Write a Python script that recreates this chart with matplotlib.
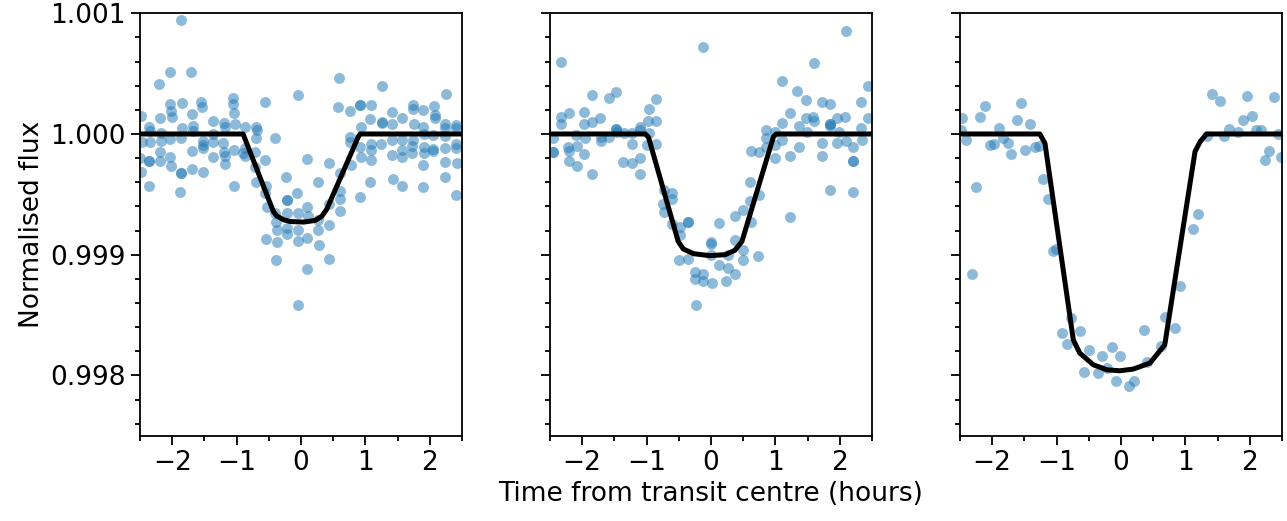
import numpy as np
import matplotlib
matplotlib.use("Agg")
import matplotlib.pyplot as plt
from matplotlib.ticker import MultipleLocator, FormatStrFormatter

# --- panel 1 data (hours, normalised flux) ---
t1 = [-1.86, -2.04, -1.71, -2.20, -1.85, -2.03, -2.02, -2.00, -2.19, -1.55,
      -1.54, -1.69, -1.68, -1.85, -1.67, -2.17, -2.17, -2.03, -1.86, -1.37,
      -1.20, -1.18, -1.05, -1.05, -1.04, -1.03, -0.87, -0.70, -0.70, -0.56,
      -2.49, -2.36, -2.35, -2.34, -2.47, -2.50, -2.36, -2.49, -2.36, -2.19,
      -2.19, -2.03, -2.02, -1.86, -1.88, -1.70, -1.70, -1.53, -1.52, -1.52,
      -1.53, -1.37, -1.37, -1.37, -1.21, -1.19, -1.18, -1.18, -1.04, -1.04,
      -0.87, -0.87, -0.90, -0.71, -0.71, -0.70, -0.56, -0.54, -0.53, -0.55,
      -0.41, -0.39, -0.38, -0.38, -0.39, -0.24, -0.22, -0.22, -0.22, -0.07,
      -0.05, -0.05, -0.05, -0.05, -0.05, 0.09, 0.10, 0.11, 0.10, 0.10,
      0.26, 0.27, 0.27, 0.28, 0.43, 0.44, 0.44, 0.43, 0.59, 0.57,
      0.60, 0.61, 0.60, 0.60, 0.76, 0.76, 0.76, 0.77, 0.91, 0.93,
      0.93, 0.92, 1.08, 1.07, 1.08, 1.09, 1.08, 1.07, 1.25, 1.25,
      1.24, 1.41, 1.41, 1.41, 1.41, 1.42, 1.57, 1.57, 1.57, 1.56,
      1.57, 1.74, 1.74, 1.75, 1.73, 1.73, 1.90, 1.90, 1.91, 1.91,
      1.91, 1.90, 1.90, 2.07, 2.08, 2.08, 2.05, 2.05, 2.05, 2.25,
      2.24, 2.24, 2.24, 2.24, 2.24, 2.24, 2.40, 2.40, 2.41, 2.41,
      2.42, 2.41, -0.41, -0.22, -0.56, -2.36, -1.86, -0.22, 0.92, -0.69,
      1.25, 0.92, 1.74]
f1 = [1.000942, 1.000515, 1.000510, 1.000413, 1.000259, 1.000245, 1.000193, 1.000138, 1.000129, 1.000262,
      1.000226, 1.000165, 1.000069, 1.000047, 1.000025, 1.000006, 0.999945, 0.999956, 0.999964, 1.000110,
      1.000094, 1.000061, 1.000295, 1.000245, 1.000171, 1.000083, 1.000061, 1.000055, 0.999964, 1.000262,
      1.000152, 1.000055, 1.000028, 0.999937, 0.999937, 0.999799, 0.999777, 0.999689, 0.999570, 0.999848,
      0.999780, 0.999813, 0.999736, 0.999680, 0.999518, 0.999862, 0.999711, 0.999945, 0.999909, 0.999882,
      0.999683, 0.999997, 0.999937, 0.999807, 0.999923, 0.999854, 0.999818, 0.999749, 0.999868, 0.999573,
      0.999882, 0.999818, 0.999846, 0.999854, 0.999730, 0.999598, 0.999785, 0.999565, 0.999399, 0.999132,
      0.999964, 0.999267, 0.999207, 0.999105, 0.998959, 0.999647, 0.999455, 0.999220, 0.999171, 0.999515,
      0.999344, 0.999207, 0.999110, 0.998581, 1.000322, 0.999790, 0.999394, 0.999317, 0.999138, 0.998884,
      0.999598, 0.999289, 0.999207, 0.999083, 0.999758, 0.999421, 0.999248, 0.998964, 1.000466, 1.000226,
      0.999680, 0.999529, 0.999463, 0.999364, 1.000193, 0.999978, 0.999937, 0.999744, 1.000240, 1.000061,
      0.999807, 0.999474, 1.000240, 1.000121, 0.999917, 0.999868, 0.999785, 0.999598, 1.000397, 1.000102,
      0.999917, 1.000179, 1.000083, 0.999950, 0.999826, 0.999628, 1.000129, 0.999950, 0.999868, 0.999807,
      0.999565, 1.000240, 1.000207, 1.000083, 0.999901, 0.999840, 1.000198, 1.000061, 0.999997, 0.999890,
      0.999840, 0.999744, 0.999559, 1.000231, 1.000157, 1.000129, 0.999992, 0.999876, 0.999859, 1.000328,
      1.000083, 1.000052, 0.999983, 0.999882, 0.999771, 0.999647, 1.000074, 1.000047, 0.999917, 0.999882,
      0.999758, 0.999496, 0.999344, 0.999344, 0.999510, 0.999777, 0.999680, 0.999455, 1.000240, 1.000033,
      1.000088, 0.999890, 0.999950]

# --- panel 2 data ---
t2 = [-2.45, -2.45, -2.33, -2.33, -2.33, -2.22, -2.20, -2.20, -2.21, -2.09,
      -2.08, -2.08, -1.97, -1.97, -1.96, -1.97, -1.84, -1.84, -1.84, -1.72,
      -1.71, -1.71, -1.59, -1.58, -1.47, -1.47, -1.46, -1.36, -1.35, -1.22,
      -1.22, -1.22, -1.11, -1.10, -1.10, -1.10, -0.97, -0.97, -0.98, -0.85,
      -0.85, -0.99, -0.85, -0.73, -0.60, -0.74, -0.73, -0.61, -0.61, -0.48,
      -0.48, -0.49, -0.36, -0.36, -0.25, -0.25, -0.24, -0.12, -0.12, -0.13,
      0.00, 0.00, 0.01, 0.00, 0.13, 0.13, 0.26, 0.26, 0.24, 0.38,
      0.37, 0.37, 0.49, 0.49, 0.49, 0.61, 0.60, 0.62, 0.73, 0.62,
      0.75, 0.75, 0.86, 0.86, 0.86, 0.99, 0.99, 0.99, 1.11, 1.11,
      1.11, 1.23, 1.23, 1.23, 1.34, 1.36, 1.36, 1.47, 1.47, 1.49,
      1.60, 1.59, 1.60, 1.72, 1.72, 1.72, 1.84, 1.84, 1.85, 1.85,
      1.96, 1.96, 1.98, 2.08, 2.10, 2.10, 2.21, 2.21, 2.21, 2.33,
      2.33, 2.34, 2.44, 2.44, -2.45, 2.21, 1.84, -0.36, -1.47]
f2 = [0.999964, 0.999854, 1.000083, 1.000138, 1.000595, 0.999895, 1.000176, 0.999862, 0.999777, 0.999992,
      0.999901, 0.999738, 1.000179, 1.000083, 0.999964, 0.999832, 1.000325, 1.000096, 0.999667, 1.000129,
      0.999972, 0.999942, 1.000295, 0.999972, 1.000350, 1.000044, 1.000019, 0.999771, 1.000011, 1.000011,
      0.999915, 0.999758, 1.000061, 0.999799, 0.999670, 1.000033, 1.000204, 1.000006, 1.000107, 1.000289,
      1.000107, 0.999906, 0.999915, 0.999537, 0.999515, 0.999421, 0.999353, 0.999460, 0.999256, 0.999226,
      0.999163, 0.998953, 0.999267, 0.998964, 0.998854, 0.998799, 0.998587, 0.998840, 0.998780, 1.000722,
      0.999102, 0.999091, 0.998766, 0.998997, 0.999262, 0.998917, 0.998997, 0.998890, 0.998780, 0.998840,
      0.999317, 0.999124, 0.999372, 0.999041, 0.998959, 0.999598, 0.999446, 0.999267, 0.998986, 0.999860,
      0.999848, 0.999496, 1.000033, 0.999964, 0.999895, 1.000019, 0.999799, 0.999909, 1.000438, 1.000094,
      0.999950, 1.000176, 0.999821, 0.999309, 1.000358, 1.000069, 0.999890, 1.000281, 1.000135, 1.000019,
      1.000592, 1.000138, 1.000107, 1.000262, 0.999923, 0.999821, 1.000248, 1.000080, 1.000066, 0.999537,
      1.000135, 0.999923, 1.000019, 1.000143, 1.000851, 0.999942, 0.999895, 0.999780, 0.999518, 1.000267,
      1.000052, 0.999950, 1.000399, 1.000129, 0.999854, 0.999780, 1.000080, 0.999267, 1.000044]

# --- panel 3 data ---
t3 = [-2.47, -2.49, -2.40, -2.25, -2.32, -2.19, -2.11, -2.04, -1.97, -1.90,
      -1.83, -1.76, -1.70, -1.62, -1.55, -1.49, -1.41, -1.34, -1.28, -1.21,
      -1.14, -1.06, -1.01, -0.78, -0.92, -0.84, -0.64, -0.50, -0.57, -0.35,
      -0.29, -0.22, -0.14, -0.08, -0.02, 0.13, 0.20, 0.35, 0.41, 0.62,
      0.68, 0.84, 0.92, 1.12, 1.19, 1.33, 1.41, 1.54, 1.60, 1.67,
      1.82, 1.89, 1.95, 2.03, 2.10, 2.17, 2.24, 2.30, 2.38, 2.44,
      2.49]
f3 = [1.000135, 1.000033, 0.999950, 0.999564, 0.998841, 1.000138, 1.000229, 0.999909, 0.999917, 1.000050,
      0.999970, 0.999928, 0.999832, 1.000116, 1.000259, 0.999865, 1.000086, 0.999890, 0.999900, 0.999630,
      0.999465, 0.999034, 0.999051, 0.998474, 0.998350, 0.998262, 0.998364, 0.998212, 0.998030, 0.998019,
      0.998157, 0.998060, 0.998234, 0.997950, 0.998162, 0.997914, 0.997950, 0.998375, 0.998107, 0.998245,
      0.998482, 0.998389, 0.998742, 0.999211, 0.999335, 0.999983, 1.000334, 1.000273, 0.999986, 1.000044,
      1.000017, 1.000113, 1.000315, 1.000149, 1.000033, 1.000033, 0.999785, 0.999862, 1.000309, 1.000000,
      0.999812]

# --- transit models ---
m1_t = [-2.5, -0.90, -0.43, -0.38, -0.27, -0.17, 0.04, 0.22, 0.32, 0.40, 0.89, 0.92, 2.5]
m1_f = [1.0, 1.0, 0.999358, 0.999322, 0.999289, 0.999275, 0.99927, 0.999284, 0.999317, 0.999377, 0.999978, 1.0, 1.0]

m2_t = [-2.5, -1.02, -0.97, -0.51, -0.43, -0.27, -0.02, 0.22, 0.37, 0.48, 0.97, 1.01, 2.5]
m2_f = [1.0, 1.0, 0.999972, 0.99911, 0.999047, 0.999008, 0.998992, 0.999, 0.999036, 0.99911, 0.999978, 1.0, 1.0]

m3_t = [-2.5, -1.26, -1.18, -0.74, -0.64, -0.43, -0.22, -0.02, 0.19, 0.45, 0.68, 1.15, 1.23, 1.33, 2.5]
m3_f = [1.0, 1.0, 0.999923, 0.998295, 0.998185, 0.998088, 0.998046, 0.998038, 0.998052, 0.998102,
        0.998253, 0.999854, 0.999937, 1.0, 1.0]

panels = [(t1, f1, m1_t, m1_f), (t2, f2, m2_t, m2_f), (t3, f3, m3_t, m3_f)]

plt.rcParams["font.size"] = 19

fig, axes = plt.subplots(1, 3, figsize=(12.87, 5.21), dpi=100, sharey=True)
fig.subplots_adjust(left=0.1088, right=0.9961, top=0.9745, bottom=0.1637, wspace=0.273)

for ax, (t, f, mt, mf) in zip(axes, panels):
    ax.scatter(t, f, s=62, color="#1f77b4", alpha=0.5, linewidths=0)
    ax.plot(mt, mf, color="black", lw=3.6)
    ax.set_xlim(-2.5, 2.5)
    ax.set_ylim(0.9975, 1.001)
    ax.xaxis.set_major_locator(MultipleLocator(1))
    ax.xaxis.set_minor_locator(MultipleLocator(0.5))
    ax.yaxis.set_major_locator(MultipleLocator(0.001))
    ax.yaxis.set_minor_locator(MultipleLocator(0.0002))
    ax.yaxis.set_major_formatter(FormatStrFormatter("%.3f"))
    ax.tick_params(which="major", length=6.7, width=1.3)
    ax.tick_params(which="minor", length=3.6, width=1.3)
    for sp in ax.spines.values():
        sp.set_linewidth(1.3)

axes[0].set_ylabel("Normalised flux")
axes[1].set_xlabel("Time from transit centre (hours)")

fig.savefig("out.png", dpi=100)
